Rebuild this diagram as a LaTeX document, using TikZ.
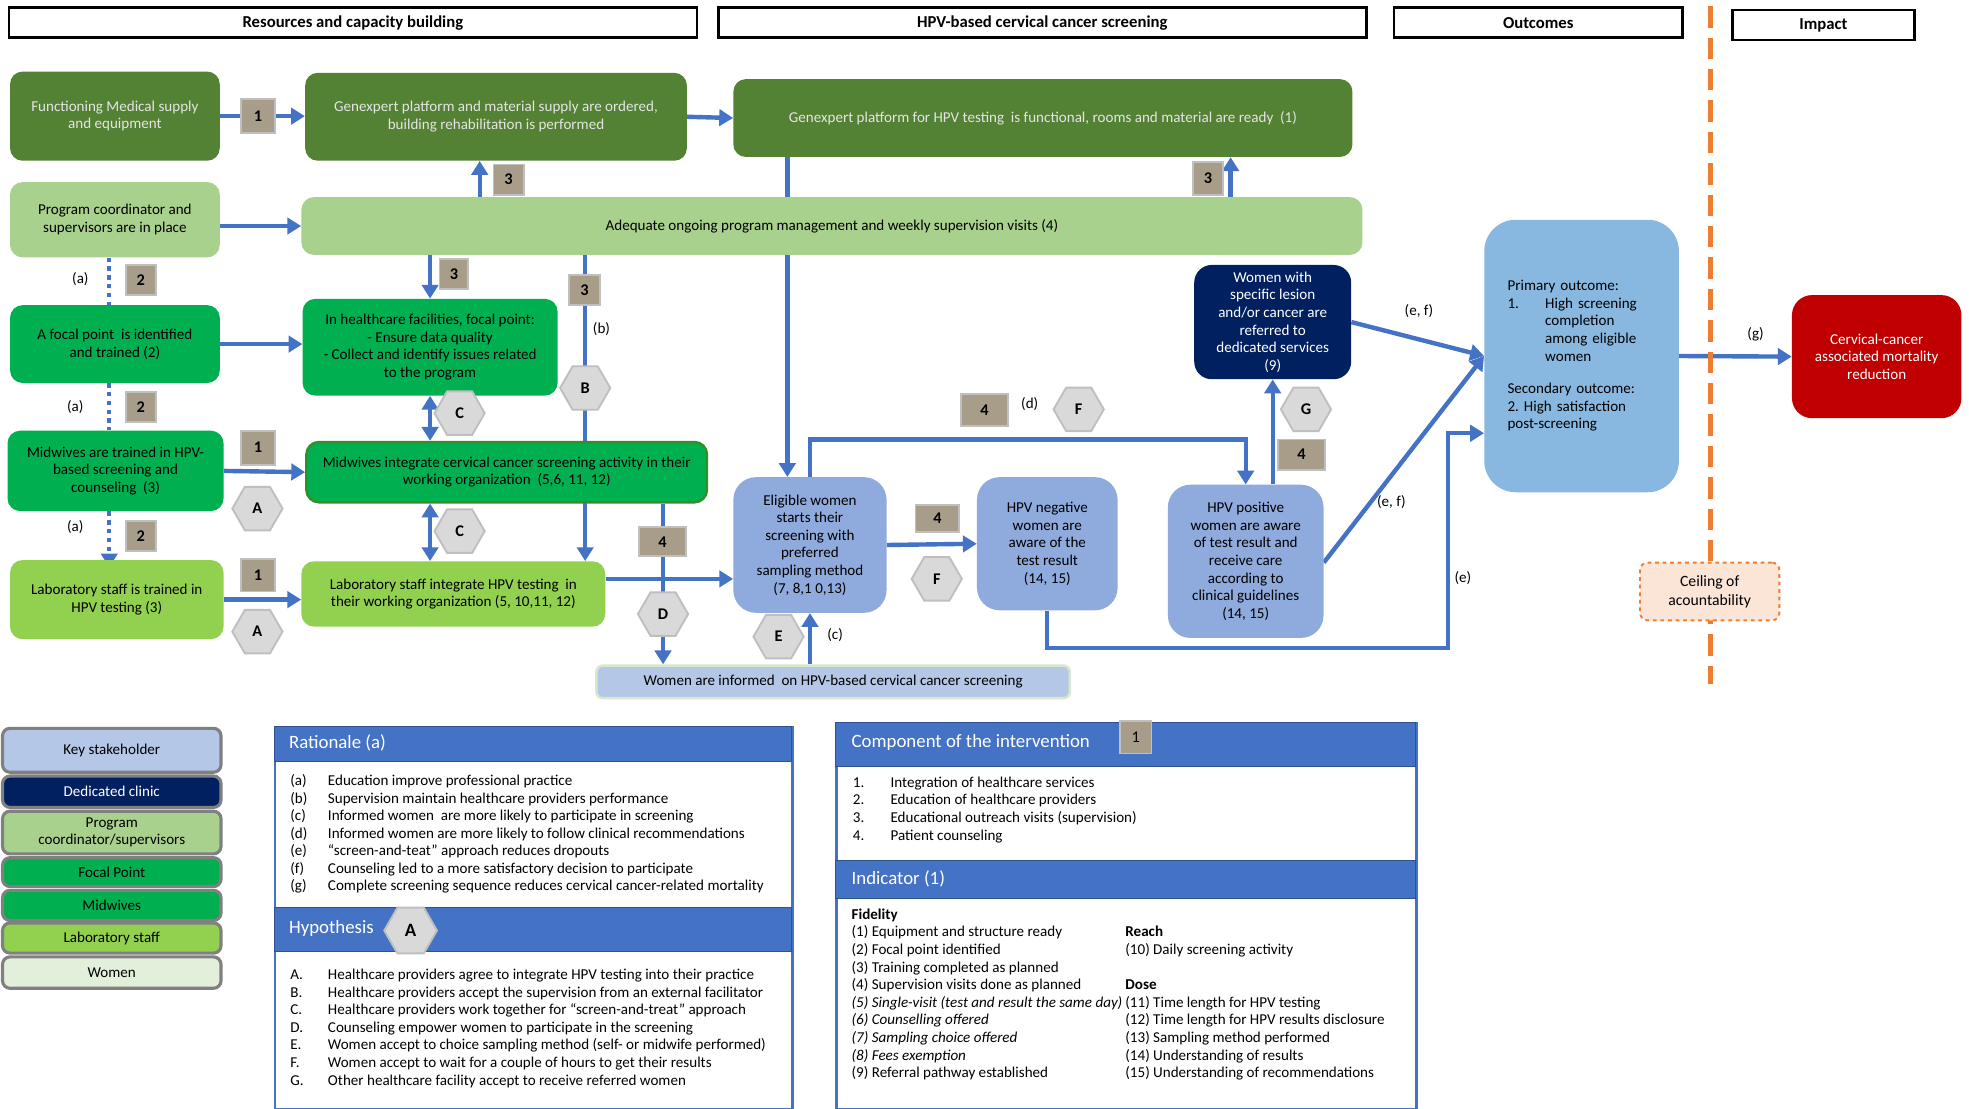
\documentclass[tikz,border=0pt]{standalone}
\usepackage{fontspec}
\setmainfont{Carlito}
\usetikzlibrary{shapes.geometric,arrows.meta,calc}
\pgfdeclarelayer{bg}
\pgfsetlayers{bg,main}
\definecolor{dgreen}{HTML}{548235}
\definecolor{lgreen}{HTML}{A9D18E}
\definecolor{mgreen}{HTML}{00B050}
\definecolor{labgreen}{HTML}{92D050}
\definecolor{wblue}{HTML}{8FAADC}
\definecolor{oblue}{HTML}{88B8E0}
\definecolor{navy}{HTML}{002060}
\definecolor{dred}{HTML}{C00000}
\definecolor{arr}{HTML}{4472C4}
\definecolor{tanb}{HTML}{A79D88}
\definecolor{hexfill}{HTML}{D9D9D9}
\definecolor{hexdraw}{HTML}{BFBFBF}
\definecolor{orng}{HTML}{ED7D31}
\definecolor{peach}{HTML}{FBE5D6}
\definecolor{kblue}{HTML}{B4C7E7}
\definecolor{wgreen}{HTML}{E2EFDA}
\definecolor{lgtext}{HTML}{E4E4E4}
\definecolor{bandedge}{HTML}{2F528F}
\tikzset{
  every node/.style={inner sep=0pt, font=\fontsize{12}{14}\selectfont},
  sz/.style 2 args={minimum width=#1pt, minimum height=#2pt},
  bx/.style={rectangle, rounded corners=10pt, align=center},
  hdr/.style={rectangle, draw=black, line width=2pt, fill=white, font=\bfseries\fontsize{13.3}{15}\selectfont},
  arw/.style={draw=arr, line width=3.5pt, -{Triangle[length=11pt,width=13pt]}},
  darw/.style={draw=arr, line width=3.5pt, {Triangle[length=11pt,width=13pt]}-{Triangle[length=11pt,width=13pt]}},
  dotl/.style={draw=arr, line width=3.5pt, dash pattern=on 3.5pt off 3.5pt},
  badge/.style={rectangle, fill=tanb, draw=hexdraw, line width=1.5pt, font=\bfseries\fontsize{13}{14}\selectfont},
  hexa/.style={regular polygon, regular polygon sides=6, fill=hexfill, draw=hexdraw, line width=1.5pt, minimum size=40pt, font=\bfseries\fontsize{13}{14}\selectfont},
  lbl/.style={font=\fontsize{12}{14}\selectfont},
  leg/.style={rectangle, rounded corners=6pt, draw=black!50, line width=2.5pt, align=center, minimum width=174pt},
  band/.style={rectangle, fill=arr, draw=bandedge, line width=1pt, anchor=north west},
  bandtxt/.style={anchor=west, text=white, font=\fontsize{15}{17}\selectfont},
  lst/.style={anchor=north west, align=left, font=\fontsize{12}{14}\selectfont},
}
\begin{document}
\begin{tikzpicture}[x=1pt,y=-1pt]
\useasboundingbox (0,0) rectangle (1568,883);
\begin{pgfonlayer}{bg}
\fill[white] (0,0) rectangle (1568,883);
\end{pgfonlayer}

% headers
\node[hdr, sz={548}{24}] (h1) at (281,18) {Resources and capacity building};
\node[hdr, sz={516}{24}] (h2) at (830,18) {HPV-based cervical cancer screening};
\node[hdr, sz={230}{24}] (h3) at (1225,18) {Outcomes};
\node[hdr, sz={145}{24}] (h4) at (1452,20) {Impact};

% main boxes
\node[bx, fill=dgreen, text=lgtext, sz={167}{71}] (fms) at (91.5,92.5) {Functioning Medical supply\\and equipment};
\node[bx, fill=dgreen, text=lgtext, sz={304}{70}] (gord) at (395,93) {Genexpert platform and material supply are ordered,\\building rehabilitation is performed};
\node[bx, fill=dgreen, text=lgtext, sz={493}{62}] (gfun) at (830.5,94) {Genexpert platform for HPV testing\ \ is functional, rooms and material are ready\ \ (1)};
\node[bx, fill=lgreen, sz={167}{60}] (prog) at (91.5,175) {Program coordinator and\\supervisors are in place};
\node[bx, fill=lgreen, sz={845}{46}] (adeq) at (662.5,180) {Adequate ongoing program management and weekly supervision visits (4)};
\node[bx, fill=mgreen, sz={167}{62}] (focal) at (91.5,274) {A focal point\ \ is identified\\and trained (2)};
\node[bx, fill=mgreen, sz={203}{77}] (inhc) at (342.5,276.5) {In healthcare facilities, focal point:\\- Ensure data quality\\- Collect and identify issues related\\to the program};
\node[bx, fill=mgreen, sz={172}{64}] (midt) at (92,375) {Midwives are trained in HPV-\\based screening and\\counseling\ \ (3)};
\node[bx, fill=mgreen, draw=green!45!black!70!lgreen, line width=2pt, sz={319}{48}] (midi) at (403.5,376) {Midwives integrate cervical cancer screening activity in their\\working organization\ \ (5,6, 11, 12)};
\node[bx, fill=labgreen, sz={170}{63}] (labt) at (93,477.5) {Laboratory staff is trained in\\HPV testing (3)};
\node[bx, fill=labgreen, sz={242}{52}] (labi) at (361,473) {Laboratory staff integrate HPV testing\ \ in\\their working organization (5, 10,11, 12)};
\node[bx, fill=wblue, rounded corners=18pt, sz={122}{108}] (elig) at (645,434) {Eligible women\\starts their\\screening with\\preferred\\sampling method\\(7, 8,1 0,13)};
\node[bx, fill=wblue, rounded corners=18pt, sz={112}{106}] (hneg) at (834,433) {HPV negative\\women are\\aware of the\\test result\\(14, 15)};
\node[bx, fill=wblue, rounded corners=18pt, sz={124}{122}] (hpos) at (992,447) {HPV positive\\women are aware\\of test result and\\receive care\\according to\\clinical guidelines\\(14, 15)};
\node[bx, fill=navy, text=white, rounded corners=14pt, sz={125}{91}] (wref) at (1013.5,256.5) {Women with\\specific lesion\\and/or cancer are\\referred to\\dedicated services\\(9)};
\node[bx, fill=oblue, rounded corners=25pt, sz={155}{217}, align=left, text width=118pt] (outc) at (1259.5,283.5) {Primary outcome:\\\makebox[30pt][l]{1.}High screening\\\hspace*{30pt}completion\\\hspace*{30pt}among eligible\\\hspace*{30pt}women\\[12pt]Secondary outcome:\\2.\ High satisfaction\\post-screening};
\node[bx, fill=dred, text=white, rounded corners=16pt, sz={135}{98}] (cerv) at (1494.5,284) {Cervical-cancer\\associated mortality\\reduction};
\node[bx, fill=kblue, draw=wgreen!80!lgreen, line width=2pt, rounded corners=5pt, sz={377}{26}] (winf) at (663.5,543) {Women are informed\ \ on HPV-based cervical cancer screening};

% connectors
\begin{pgfonlayer}{bg}
\draw[arw] (fms.east) -- (gord.west |- fms.east);
\draw[arw] (gord.east) -- (gfun.west);
\draw[arw] (prog.east |- adeq.west) -- (adeq.west);
\draw[arw] (adeq.north -| 382,0) -- (gord.south -| 382,0);
\draw[arw] (adeq.north -| 980,0) -- (gfun.south -| 980,0);
\draw[arw] (gfun.south -| 627,0) -- (elig.north -| 627,0);
\draw[dotl] (prog.south -| 87,0) -- (focal.north -| 87,0);
\draw[arw] (focal.east) -- (inhc.west |- focal.east);
\draw[arw] (adeq.south -| inhc.north) -- (inhc.north);
\draw[arw] (adeq.south -| 466,0) -- (labi.north -| 466,0);
\draw[dotl] (focal.south -| 87,0) -- (midt.north -| 87,0);
\draw[arw] (midt.east) -- (midi.west);
\draw[darw] (inhc.south) -- (midi.north -| inhc.south);
\draw[darw] (midi.south -| inhc.south) -- (labi.north -| inhc.south);
\draw[arw] (midi.south -| 528,0) -- (winf.north -| 528,0);
\draw[dotl, -{Triangle[length=11pt,width=13pt]}] (midt.south -| 87,0) -- ([yshift=-6pt]labt.north -| 87,0);
\draw[arw] (labt.east) -- (labi.west |- labt.east);
\draw[arw] (labi.east |- 0,461) -- (elig.west |- 0,461);
\draw[arw] (winf.north -| elig.south) -- (elig.south);
\draw[arw] (elig.north) -- (elig.north |- 0,350) -- (hpos.north |- 0,350) -- (hpos.north);
\draw[arw] (elig.east) -- (hneg.west);
\draw[arw] (hpos.north -| wref.south) -- (wref.south);
\draw[arw] (wref.east) -- (outc.west);
\draw[arw] ([yshift=-1pt]hpos.east) -- (outc.west);
\draw[arw] (hneg.south) -- (hneg.south |- 0,516) -- (1153,516) -- (1153,345) -- (outc.west |- 0,345);
\draw[arw] (outc.east) -- (cerv.west);
\end{pgfonlayer}

% orange dashed line and ceiling
\coordinate (otop) at (1362,5);
\coordinate (obot) at (1362,545);
\draw[orng, line width=4.5pt, dash pattern=on 17pt off 8pt] (otop) -- (obot);
\node[bx, fill=peach, draw=orng, dashed, line width=1.5pt, rounded corners=6pt, sz={111}{46}, font=\fontsize{12.5}{15}\selectfont] (ceil) at (1361.5,471) {Ceiling of\\acountability};

% badges
\node[badge, sz={27}{27}] (b1) at (205.5,92.5) {1};
\node[badge, sz={24}{24}] (b2) at (405,143) {3};
\node[badge, sz={24}{26}] (b3) at (962,142) {3};
\node[badge, sz={24}{24}] (b4) at (112,223) {2};
\node[badge, sz={23}{24}] (b5) at (361.5,218) {3};
\node[badge, sz={25}{24}] (b6) at (465.5,231) {3};
\node[badge, sz={24}{24}] (b7) at (112,324) {2};
\node[badge, sz={27}{27}] (b8) at (205.5,356.5) {1};
\node[badge, sz={24}{24}] (b9) at (112,427) {2};
\node[badge, sz={27}{26}] (b10) at (205.5,458) {1};
\node[badge, sz={37}{23}] (b11) at (527.5,431.5) {4};
\node[badge, sz={35}{22}] (b12) at (746.5,413) {4};
\node[badge, sz={38}{25}] (b13) at (784,326.5) {4};
\node[badge, sz={37}{24}] (b14) at (1036.5,362) {4};

% hexagons
\node[hexa] (xB) at (466,309) {B};
\node[hexa] (xC1) at (366,329) {C};
\node[hexa] (xC2) at (366,423) {C};
\node[hexa] (xA1) at (205,405) {A};
\node[hexa] (xA2) at (205,503) {A};
\node[hexa] (xD) at (528,489) {D};
\node[hexa] (xE) at (620,507) {E};
\node[hexa] (xF1) at (746,461) {F};
\node[hexa] (xF2) at (859,326) {F};
\node[hexa] (xG) at (1040,326) {G};

% labels
\node[lbl] (la1) at (64,222) {(a)};
\node[lbl] (la2) at (60,324) {(a)};
\node[lbl] (la3) at (60,420) {(a)};
\node[lbl] (lb) at (479,262) {(b)};
\node[lbl] (lc) at (665,506) {(c)};
\node[lbl] (ld) at (820,322) {(d)};
\node[lbl] (lef1) at (1130,248) {(e, f)};
\node[lbl] (lef2) at (1108,400) {(e, f)};
\node[lbl] (le) at (1165,460) {(e)};
\node[lbl] (lg) at (1398,266) {(g)};

% legend
\node[leg, fill=kblue, sz={174}{35}] (lk) at (89,597.5) {Key stakeholder};
\node[leg, fill=navy, text=white, sz={174}{25}] (ld2) at (89,630.5) {Dedicated clinic};
\node[leg, fill=lgreen, sz={174}{34}] (lp) at (89,663) {Program\\coordinator/supervisors};
\node[leg, fill=mgreen, sz={174}{23}] (lf) at (89,694.5) {Focal Point};
\node[leg, fill=mgreen, sz={174}{24}] (lm) at (89,721) {Midwives};
\node[leg, fill=labgreen, sz={174}{24}] (ll) at (89,747) {Laboratory staff};
\node[leg, fill=wgreen, sz={174}{25}] (lw) at (89,774.5) {Women};

% Rationale / Hypothesis panel
\node[rectangle, draw=arr, line width=2pt, anchor=north west, sz={412}{304}] (ratbox) at (218,578) {};
\node[band, sz={412}{28}] (ratband) at (218,578) {};
\node[bandtxt] (rattxt) at (230,592) {Rationale (a)};
\node[lst] (ratlist) at (231,616.5) {\makebox[30pt][l]{(a)}Education improve professional practice\\
\makebox[30pt][l]{(b)}Supervision maintain healthcare providers performance\\
\makebox[30pt][l]{(c)}Informed women\ \ are more likely to participate in screening\\
\makebox[30pt][l]{(d)}Informed women are more likely to follow clinical recommendations\\
\makebox[30pt][l]{(e)}``screen-and-teat'' approach reduces dropouts\\
\makebox[30pt][l]{(f)}Counseling led to a more satisfactory decision to participate\\
\makebox[30pt][l]{(g)}Complete screening sequence reduces cervical cancer-related mortality};
\node[band, sz={412}{35}] (hypband) at (218,722) {};
\node[bandtxt] (hyptxt) at (230,739) {Hypothesis};
\node[hexa, minimum size=42pt, font=\bfseries\fontsize{15}{16}\selectfont] (xAh) at (327,741) {A};
\node[lst] (hyplist) at (231,771.5) {\makebox[30pt][l]{A.}Healthcare providers agree to integrate HPV testing into their practice\\
\makebox[30pt][l]{B.}Healthcare providers accept the supervision from an external facilitator\\
\makebox[30pt][l]{C.}Healthcare providers work together for ``screen-and-treat'' approach\\
\makebox[30pt][l]{D.}Counseling empower women to participate in the screening\\
\makebox[30pt][l]{E.}Women accept to choice sampling method (self- or midwife performed)\\
\makebox[30pt][l]{F.}Women accept to wait for a couple of hours to get their results\\
\makebox[30pt][l]{G.}Other healthcare facility accept to receive referred women};

% Component / Indicator panel
\node[rectangle, draw=arr, line width=2pt, anchor=north west, sz={462}{307}] (compbox) at (665,575) {};
\node[band, sz={462}{35}] (compband) at (665,575) {};
\node[bandtxt] (comptxt) at (678,591) {Component of the intervention};
\node[badge, sz={25}{26}, font=\fontsize{13}{14}\selectfont] (bc) at (904.5,587) {1};
\node[lst] (complist) at (679,618.5) {\makebox[30pt][l]{1.}Integration of healthcare services\\
\makebox[30pt][l]{2.}Education of healthcare providers\\
\makebox[30pt][l]{3.}Educational outreach visits (supervision)\\
\makebox[30pt][l]{4.}Patient counseling};
\node[band, sz={462}{30}] (indband) at (665,685) {};
\node[bandtxt] (indtxt) at (678,700) {Indicator (1)};
\node[lst] (indleft) at (678,723.5) {\textbf{Fidelity}\\
(1) Equipment and structure ready\\
(2) Focal point identified\\
(3) Training completed as planned\\
(4) Supervision visits done as planned\\
\textit{(5) Single-visit (test and result the same day)}\\
\textit{(6) Counselling offered}\\
\textit{(7) Sampling choice offered}\\
\textit{(8) Fees exemption}\\
(9) Referral pathway established};
\node[lst] (indright) at (896,737.5) {\textbf{Reach}\\
(10) Daily screening activity\\[14pt]
\textbf{Dose}\\
(11) Time length for HPV testing\\
(12) Time length for HPV results disclosure\\
(13) Sampling method performed\\
(14) Understanding of results\\
(15) Understanding of recommendations};
\end{tikzpicture}
\end{document}
